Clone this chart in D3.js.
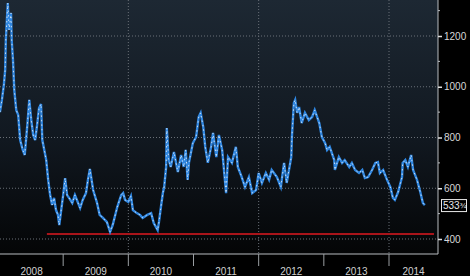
<!DOCTYPE html>
<html>
<head>
<meta charset="utf-8">
<script src="https://cdn.jsdelivr.net/npm/d3@7"></script>
<style>
  html, body { margin: 0; padding: 0; background: #000; }
  svg { display: block; }
  text { font-family: "Liberation Sans", Arial, sans-serif; }
</style>
</head>
<body>
<div id="chart"></div>
<script>
// time as decimal years, price levels
const dates = [
  2008.03, 2008.06, 2008.09, 2008.11, 2008.12, 2008.15, 2008.17, 2008.20, 2008.21, 2008.23,
  2008.25, 2008.28, 2008.31, 2008.34, 2008.38, 2008.41, 2008.45, 2008.48, 2008.51, 2008.54,
  2008.57, 2008.60, 2008.63, 2008.66, 2008.68, 2008.71, 2008.74, 2008.77, 2008.80, 2008.83,
  2008.86, 2008.89, 2008.92, 2008.94, 2008.97, 2009.00, 2009.03, 2009.06, 2009.09, 2009.14,
  2009.18, 2009.26, 2009.30, 2009.35, 2009.38, 2009.41, 2009.46, 2009.52, 2009.56, 2009.61,
  2009.67, 2009.72, 2009.76, 2009.83, 2009.89, 2009.92, 2009.95, 2010.00, 2010.04, 2010.07,
  2010.13, 2010.18, 2010.22, 2010.29, 2010.35, 2010.39, 2010.45, 2010.47, 2010.50, 2010.53,
  2010.55, 2010.58, 2010.59, 2010.62, 2010.65, 2010.70, 2010.76, 2010.81, 2010.85, 2010.88,
  2010.91, 2010.93, 2010.99, 2011.04, 2011.08, 2011.11, 2011.15, 2011.18, 2011.22, 2011.27,
  2011.30, 2011.35, 2011.39, 2011.44, 2011.50, 2011.53, 2011.59, 2011.65, 2011.68, 2011.74,
  2011.79, 2011.85, 2011.90, 2011.96, 2012.00, 2012.05, 2012.11, 2012.16, 2012.20, 2012.28,
  2012.34, 2012.39, 2012.43, 2012.50, 2012.51, 2012.54, 2012.56, 2012.59, 2012.62, 2012.66,
  2012.71, 2012.77, 2012.82, 2012.86, 2012.93, 2012.97, 2013.02, 2013.05, 2013.09, 2013.16,
  2013.17, 2013.23, 2013.28, 2013.32, 2013.39, 2013.43, 2013.48, 2013.54, 2013.59, 2013.63,
  2013.68, 2013.74, 2013.79, 2013.83, 2013.86, 2013.91, 2013.97, 2014.02, 2014.06, 2014.09,
  2014.14, 2014.20, 2014.21, 2014.25, 2014.29, 2014.34, 2014.37, 2014.43, 2014.48, 2014.52,
  2014.55
];
const prices = [
  900, 948, 1007, 1066, 1184, 1330, 1224, 1291, 1184, 1105,
  987, 908, 889, 790, 751, 731, 849, 948, 869, 810,
  790, 849, 916, 932, 790, 751, 711, 633, 573, 534,
  562, 514, 495, 455, 514, 573, 640, 573, 562, 542,
  573, 522, 554, 581, 633, 676, 593, 542, 495, 483,
  467, 428, 455, 526, 573, 581, 554, 546, 569, 514,
  502, 495, 483, 495, 502, 463, 435, 467, 526, 581,
  605, 684, 837, 711, 684, 743, 664, 731, 684, 751,
  633, 700, 778, 802, 881, 897, 841, 763, 700, 763,
  818, 723, 810, 751, 581, 723, 700, 763, 684, 644,
  605, 644, 581, 593, 660, 621, 660, 633, 672, 644,
  605, 700, 621, 723, 802, 936, 948, 897, 920, 857,
  897, 869, 881, 908, 857, 802, 778, 751, 763, 711,
  672, 723, 700, 711, 684, 700, 672, 660, 672, 640,
  644, 672, 700, 703, 660, 672, 633, 605, 562, 554,
  585, 644, 700, 711, 684, 731, 672, 633, 585, 542,
  533.75
];
const priceTicks = [400, 600, 800, 1000, 1200];
const minorTicks = [500, 700, 900, 1100, 1300];
const yearLabels = [2008, 2009, 2010, 2011, 2012, 2013, 2014];
const gridYears = [2010, 2012, 2014];
const supportLevel = 420;
const supportSpan = [2008.75, 2014.69];
const lastLabel = "533";
const lastFraction = "\u00BE";

const W = 470, H = 276;
const plotRight = 438, plotBottom = 254;

const svg = d3.select("#chart").append("svg")
    .attr("width", W)
    .attr("height", H);

const defs = svg.append("defs");
const grad = defs.append("linearGradient")
    .attr("id", "bg")
    .attr("x1", 0).attr("y1", 0).attr("x2", 0).attr("y2", 1);
grad.append("stop").attr("offset", "0%").attr("stop-color", "#1d2833");
grad.append("stop").attr("offset", "55%").attr("stop-color", "#111820");
grad.append("stop").attr("offset", "100%").attr("stop-color", "#040506");

svg.append("rect").attr("width", W).attr("height", H).attr("fill", "#000");
svg.append("rect")
    .attr("width", plotRight).attr("height", plotBottom)
    .attr("fill", "url(#bg)");

// scales
const x = d3.scaleLinear().domain([2008, 2014]).range([-2, 389]);
const y = d3.scaleLinear().domain([400, 1200]).range([239, 36]);

// grid
svg.append("g").selectAll("line")
    .data(priceTicks)
    .join("line")
    .attr("x1", 0).attr("x2", plotRight)
    .attr("y1", d => y(d)).attr("y2", d => y(d))
    .attr("stroke", "#6a7078")
    .attr("stroke-width", 1)
    .attr("stroke-dasharray", "1,2");

svg.append("g").selectAll("line")
    .data(gridYears)
    .join("line")
    .attr("x1", d => x(d)).attr("x2", d => x(d))
    .attr("y1", 0).attr("y2", plotBottom)
    .attr("stroke", "#6a7078")
    .attr("stroke-width", 1)
    .attr("stroke-dasharray", "1,2");

// support line
svg.append("line")
    .attr("x1", x(supportSpan[0])).attr("x2", x(supportSpan[1]))
    .attr("y1", y(supportLevel)).attr("y2", y(supportLevel))
    .attr("stroke", "#a8141a")
    .attr("stroke-width", 2);

// price line
const data = dates.map((d, i) => ({date: d, price: prices[i]}));
const line = d3.line()
    .x(d => x(d.date))
    .y(d => y(d.price));

svg.append("path")
    .datum(data)
    .attr("fill", "none")
    .attr("stroke", "#2f86e0")
    .attr("stroke-width", 2.4)
    .attr("stroke-linejoin", "miter")
    .attr("d", line);

svg.append("path")
    .datum(data)
    .attr("fill", "none")
    .attr("stroke", "#eef2f7")
    .attr("stroke-width", 1)
    .attr("stroke-opacity", 0.8)
    .attr("stroke-dasharray", "1.5,3")
    .attr("d", line);

// axes frame
svg.append("line")
    .attr("x1", plotRight).attr("x2", plotRight)
    .attr("y1", 0).attr("y2", plotBottom)
    .attr("stroke", "#b8bcc0");
svg.append("line")
    .attr("x1", 0).attr("x2", plotRight)
    .attr("y1", plotBottom).attr("y2", plotBottom)
    .attr("stroke", "#b8bcc0");

// right axis
const yAxis = svg.append("g")
    .attr("transform", "translate(" + plotRight + ",0)")
    .call(d3.axisRight(y).tickValues(priceTicks).tickFormat(d3.format("d"))
        .tickSize(4).tickPadding(2).tickSizeOuter(0));
yAxis.select(".domain").remove();
yAxis.selectAll(".tick line").attr("stroke", "#e0e0e0").attr("stroke-width", 1.5);
yAxis.selectAll(".tick text")
    .attr("fill", "#d8d8d8")
    .attr("font-size", 10)
    .style("font-family", "'Liberation Sans', Arial, sans-serif");

svg.append("g").selectAll("line")
    .data(minorTicks)
    .join("line")
    .attr("x1", plotRight).attr("x2", plotRight + 2)
    .attr("y1", d => y(d)).attr("y2", d => y(d))
    .attr("stroke", "#b8bcc0");

// bottom year axis
svg.append("g").selectAll("line")
    .data(yearLabels.slice(1))
    .join("line")
    .attr("x1", d => x(d)).attr("x2", d => x(d))
    .attr("y1", plotBottom).attr("y2", plotBottom + 12)
    .attr("stroke", "#9a9ea2");

svg.append("g").selectAll("text")
    .data(yearLabels)
    .join("text")
    .attr("x", d => (Math.max(0, x(d)) + Math.min(plotRight, x(d + 1))) / 2)
    .attr("y", 275)
    .attr("text-anchor", "middle")
    .attr("fill", "#d0d0d0")
    .attr("font-size", 10)
    .text(d => d);

// last value tag
const lastY = y(prices[prices.length - 1]);
svg.append("rect")
    .attr("x", plotRight + 3.5).attr("y", lastY - 5.5)
    .attr("width", 25).attr("height", 12)
    .attr("fill", "#000")
    .attr("stroke", "#e8e8e8");
const tag = svg.append("text")
    .attr("x", plotRight + 5).attr("y", lastY + 4)
    .attr("fill", "#e8e8e8")
    .attr("font-size", 10);
tag.append("tspan").text(lastLabel);
tag.append("tspan").attr("font-size", 8).attr("dy", -1).text(lastFraction);
</script>
</body>
</html>
